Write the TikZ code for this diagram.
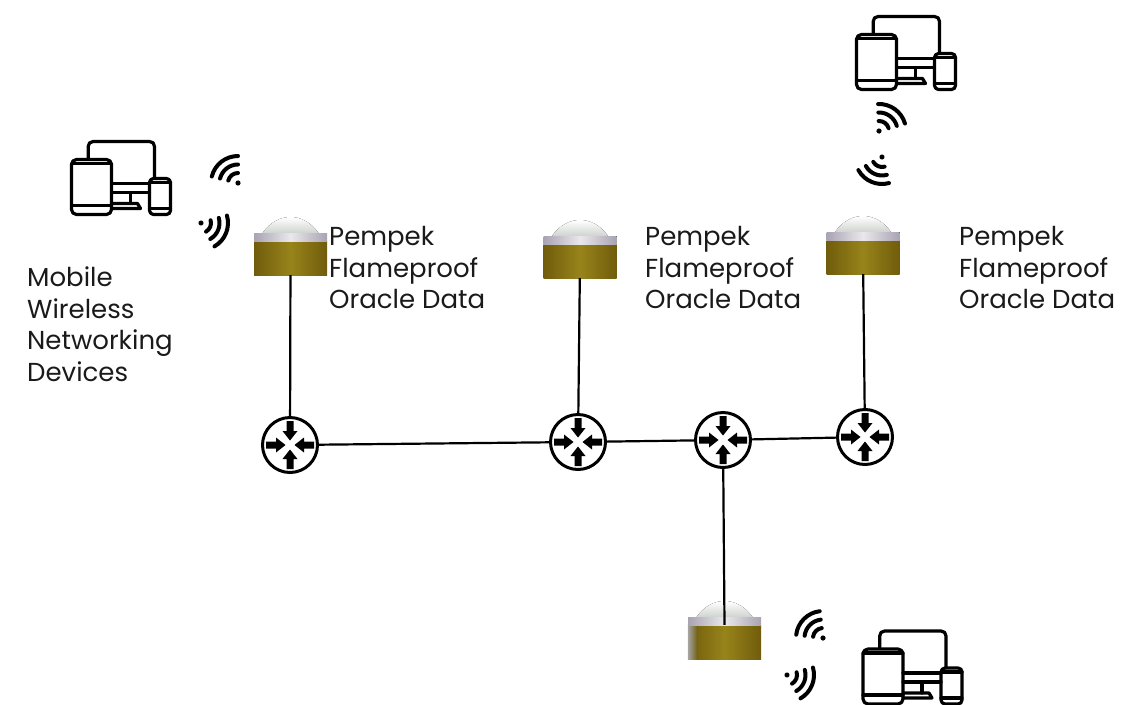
\documentclass[tikz,border=0pt]{standalone}
\usepackage{fontspec}
\setmainfont{Poppins}
\usetikzlibrary{arrows.meta}
\definecolor{ink}{HTML}{1A1A1A}
\definecolor{goldD}{HTML}{705C0C}
\definecolor{goldM}{HTML}{98841A}
\definecolor{band}{HTML}{A9A3B2}
\definecolor{domeC}{HTML}{CFD3CF}
\tikzset{
  x=1pt,y=-1pt,
  wire/.style={draw=black,line width=2.2pt},
  label/.style={align=left,anchor=north west,inner sep=0pt,font=\fontsize{26}{31.7}\selectfont,text=ink},
  router/.style={circle,draw=black,line width=3pt,minimum size=55pt,inner sep=0pt},
  base/.style={rectangle,minimum width=73pt,minimum height=34pt,inner sep=0pt,
    left color=goldD,right color=goldD,middle color=goldM},
  pics/hub/.style={code={
    \foreach \ang in {0,90,180,270}{
      \begin{scope}[rotate=\ang]
        \fill[black] (-24,-3.5) -- (-14,-3.5) -- (-14,-7.5) -- (-4.5,0) -- (-14,7.5) -- (-14,3.5) -- (-24,3.5) -- cycle;
      \end{scope}
    }
  }},
  pics/dome/.style={code={
    \fill[top color=white,bottom color=domeC] (-28,0) .. controls (-21,-10) and (-11,-16) .. (0,-16)
       .. controls (11,-16) and (21,-10) .. (28,0) -- cycle;
    \fill[left color=band,right color=band,middle color=band!25!white] (-36.5,0) rectangle (36.5,8);
  }},
  pics/wifi/.style={code={
    \begin{scope}[x=1pt,y=1pt,rotate=#1]
      \fill[black] (0,0) circle (2.6);
      \foreach \r in {10,18.5,27}{
        \draw[black,line width=4pt,line cap=round] (-38:\r) arc[start angle=-38,end angle=38,radius=\r];
      }
    \end{scope}
  }},
  pics/devices/.style={code={
    \begin{scope}[black,line width=3.2pt,line join=round,line cap=round]
      % monitor
      \draw (16.7,17) -- (16.7,5) .. controls (16.7,2) and (18.7,0) .. (21.7,0) -- (78,0)
        .. controls (81,0) and (83,2) .. (83,5) -- (83,37);
      \draw (40,42) -- (78,42);
      \draw (40,51) -- (78,51);
      \draw (59,51) -- (59,62);
      \draw (40,62) -- (66,62) -- (69,67) -- (40,67);
      % tablet
      \draw[rounded corners=5pt] (0,18) rectangle (40,73);
      \draw (0,22) -- (40,22);
      \draw (0,64) -- (40,64);
      % phone
      \draw[rounded corners=4pt] (78,37) rectangle (99,73);
      \draw (78,41) -- (99,41);
      \draw (78,67) -- (99,67);
    \end{scope}
  }},
}
\begin{document}
\begin{tikzpicture}
\useasboundingbox (0,0) rectangle (1147,704);

% gold bases
\node[base] (b1) at (290.5,258) {};
\node[base] (b2) at (580,261) {};
\node[base] (b3) at (863,257) {};
\node[base] (b4) at (724.5,642) {};
\fill[left color=gray!70,right color=goldD] (b4.south west) rectangle ([xshift=10pt]b4.north west);
\pic at (290.5,233) {dome};
\pic at (580,236) {dome};
\pic at (863,232) {dome};
\pic at (724.5,617) {dome};

% routers
\node[router] (r1) at (290,445) {};
\node[router] (r2) at (578,442) {};
\node[router] (r3) at (723,440) {};
\node[router] (r4) at (865,437) {};
\pic at (r1) {hub};
\pic at (r2) {hub};
\pic at (r3) {hub};
\pic at (r4) {hub};

% connectors
\draw[wire] (b1) -- (r1);
\draw[wire] (b2) -- (r2);
\draw[wire] (b3) -- (r4);
\draw[wire] (r3) -- (b4.north);
\draw[wire] (r1) -- (r2);
\draw[wire] (r2) -- (r3);
\draw[wire] (r3) -- (r4);

% device icons
\pic at (71.5,141.5) {devices};
\pic at (856.5,16.5) {devices};
\pic at (863,631) {devices};

% wifi
\pic at (238,183) {wifi=128};
\pic at (201,223) {wifi=-22};
\pic at (879,131) {wifi=54};
\pic at (882,157) {wifi=-113};
\pic at (823,638) {wifi=135};
\pic at (787,675) {wifi=-22};

% labels
\node[label] (t1) at (329,226) {Pempek\\Flameproof\\Oracle Data};
\node[label] (t2) at (645,226) {Pempek\\Flameproof\\Oracle Data};
\node[label] (t3) at (959,226) {Pempek\\Flameproof\\Oracle Data};
\node[label] (t4) at (27,266.5) {Mobile\\Wireless\\Networking\\Devices};
\end{tikzpicture}
\end{document}
